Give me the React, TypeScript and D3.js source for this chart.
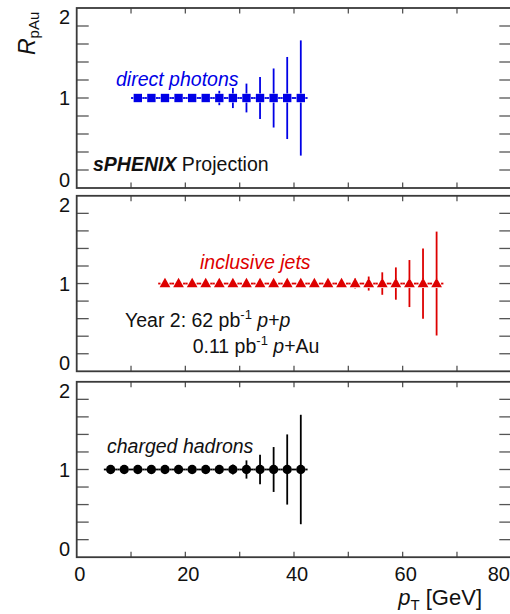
import React from 'react'
import * as d3 from 'd3'

// pT bin centres [GeV], R_pAu values and their projected uncertainties
const photonPt = [11.25, 13.75, 16.25, 18.75, 21.25, 23.75, 26.25, 28.75, 31.25, 33.75, 36.25, 38.75, 41.25]
const photonR = [1, 1, 1, 1, 1, 1, 1, 1, 1, 1, 1, 1, 1]
const photonErr = [0.015, 0.015, 0.02, 0.02, 0.03, 0.055, 0.1, 0.14, 0.2, 0.29, 0.41, 0.57, 0.8]

const jetPt = [16.25, 18.75, 21.25, 23.75, 26.25, 28.75, 31.25, 33.75, 36.25, 38.75, 41.25, 43.75, 46.25, 48.75, 51.25, 53.75, 56.25, 58.75, 61.25, 63.75, 66.25]
const jetR = [1, 1, 1, 1, 1, 1, 1, 1, 1, 1, 1, 1, 1, 1, 1, 1, 1, 1, 1, 1, 1]
const jetErr = [0.01, 0.01, 0.01, 0.015, 0.015, 0.02, 0.02, 0.025, 0.025, 0.03, 0.035, 0.04, 0.045, 0.05, 0.07, 0.1, 0.16, 0.23, 0.335, 0.5, 0.74]

const hadronPt = [6.25, 8.75, 11.25, 13.75, 16.25, 18.75, 21.25, 23.75, 26.25, 28.75, 31.25, 33.75, 36.25, 38.75, 41.25]
const hadronR = [1, 1, 1, 1, 1, 1, 1, 1, 1, 1, 1, 1, 1, 1, 1]
const hadronErr = [0.01, 0.01, 0.01, 0.015, 0.015, 0.02, 0.02, 0.025, 0.03, 0.07, 0.13, 0.21, 0.32, 0.5, 0.78]

const binHalfWidth = 1.25
const xDomain = [0, 80]
const yDomain = [-0.25, 2.25]
const xTicks = [10, 20, 30, 40, 50, 60, 70]
const xTickLabels = [0, 20, 40, 60, 80]
const yTicks = [0, 0.25, 0.5, 0.75, 1, 1.25, 1.5, 1.75, 2]
const yTickLabels = [0, 1, 2]

const W = 510
const H = 614
const FONT = 'Liberation Sans, Arial, Helvetica, sans-serif'
const FRAME = '#3a3a3a'

const x = d3.scaleLinear().domain(xDomain).range([76.7, 511.3])

const Markers = ({ pt, r, err, y, color, shape }) => {
  const gap = 4.5
  const sym = shape === 'triangle' ? d3.symbolTriangle : shape === 'square' ? d3.symbolSquare : d3.symbolCircle
  const size = shape === 'triangle' ? 50 : shape === 'square' ? 70 : 68
  const path = d3.symbol(sym, size)()
  return (
    <g>
      {pt.map((p, i) => {
        const cx = x(p)
        const cy = y(r[i])
        const x0 = x(p - binHalfWidth)
        const x1 = x(p + binHalfWidth)
        const yTop = y(r[i] + err[i])
        const yBot = y(r[i] - err[i])
        return (
          <g key={i} stroke={color} strokeWidth={1.8}>
            <line x1={x0} x2={cx - gap} y1={cy} y2={cy} />
            <line x1={cx + gap} x2={x1} y1={cy} y2={cy} />
            {cy - yTop > gap && <line x1={cx} x2={cx} y1={yTop} y2={cy - gap} />}
            {yBot - cy > gap && <line x1={cx} x2={cx} y1={cy + gap} y2={yBot} />}
          </g>
        )
      })}
      {pt.map((p, i) => (
        <path
          key={'m' + i}
          d={path}
          fill={color}
          transform={`translate(${x(p)},${y(r[i]) + (shape === 'triangle' ? 0.5 : 0)})`}
        />
      ))}
    </g>
  )
}

const Frame = ({ y, top, bottom, showXLabels }) => {
  const left = x(xDomain[0])
  const right = x(xDomain[1])
  return (
    <g>
      {yTicks.map(t => (
        <g key={'y' + t} stroke="#555" strokeWidth={1.3}>
          <line x1={left} x2={left + 12} y1={y(t)} y2={y(t)} />
          <line x1={right - 12} x2={right} y1={y(t)} y2={y(t)} />
        </g>
      ))}
      {xTicks.map(t => (
        <g key={'x' + t} stroke="#555" strokeWidth={1.3}>
          <line x1={x(t)} x2={x(t)} y1={top} y2={top + 5.5} />
          <line x1={x(t)} x2={x(t)} y1={bottom - 5.5} y2={bottom} />
        </g>
      ))}
      <rect x={left} y={top} width={right - left} height={bottom - top} fill="none" stroke={FRAME} strokeWidth={1.8} />
      {yTickLabels.map(t => (
        <text
          key={'yl' + t}
          x={70}
          y={y(t) + (t === 2 ? -9 : t === 0 ? 9.5 : 0)}
          dy="0.36em"
          textAnchor="end"
          fontSize={20}
          fill="#111"
        >
          {t}
        </text>
      ))}
      {showXLabels &&
        xTickLabels.map((t, i) => (
          <text
            key={'xl' + t}
            x={i === xTickLabels.length - 1 ? W : x(t) + 3}
            y={581}
            textAnchor={i === xTickLabels.length - 1 ? 'end' : 'middle'}
            fontSize={20}
            fill="#111"
          >
            {t}
          </text>
        ))}
    </g>
  )
}

const App = () => {
  const y1 = d3.scaleLinear().domain(yDomain).range([188, 8])
  const y2 = d3.scaleLinear().domain(yDomain).range([371.3, 195.8])
  const y3 = d3.scaleLinear().domain(yDomain).range([557.2, 381.8])

  return (
    <svg
      width={W}
      height={H}
      style={{ position: 'absolute', left: 0, top: 0, background: '#fff' }}
      fontFamily={FONT}
    >
      <rect width={W} height={H} fill="#fff" />

      {/* top: direct photons */}
      <Frame y={y1} top={8} bottom={188} showXLabels={false} />
      <Markers pt={photonPt} r={photonR} err={photonErr} y={y1} color="#0000e6" shape="square" />
      <text x={116} y={85.7} fontSize={19.5} fontStyle="italic" fill="#0000e6">direct photons</text>
      <text x={93} y={170.7} fontSize={19.5} fill="#111">
        <tspan fontWeight="bold" fontStyle="italic">sPHENIX</tspan>
        <tspan> Projection</tspan>
      </text>

      {/* middle: inclusive jets */}
      <Frame y={y2} top={195.8} bottom={371.3} showXLabels={false} />
      <Markers pt={jetPt} r={jetR} err={jetErr} y={y2} color="#dd0000" shape="triangle" />
      <text x={200} y={269} fontSize={19.5} fontStyle="italic" fill="#dd0000">inclusive jets</text>
      <text x={125} y={326.5} fontSize={19.5} fill="#111">
        <tspan>Year 2: 62 pb</tspan>
        <tspan fontSize={13} dy={-8}>-1</tspan>
        <tspan dy={8}> </tspan>
        <tspan fontStyle="italic">p</tspan>
        <tspan>+</tspan>
        <tspan fontStyle="italic">p</tspan>
      </text>
      <text x={192.7} y={353} fontSize={19.5} fill="#111">
        <tspan>0.11 pb</tspan>
        <tspan fontSize={13} dy={-8}>-1</tspan>
        <tspan dy={8}> </tspan>
        <tspan fontStyle="italic">p</tspan>
        <tspan>+Au</tspan>
      </text>

      {/* bottom: charged hadrons */}
      <Frame y={y3} top={381.8} bottom={557.2} showXLabels={true} />
      <Markers pt={hadronPt} r={hadronR} err={hadronErr} y={y3} color="#000" shape="circle" />
      <text x={107} y={452.5} fontSize={19.5} fontStyle="italic" fill="#111">charged hadrons</text>

      {/* axis titles */}
      <text transform="translate(35,55) rotate(-90)" fontSize={23} fill="#111">
        <tspan fontStyle="italic">R</tspan>
        <tspan fontSize={15} dy={4}>pAu</tspan>
      </text>
      <text x={482} y={605} textAnchor="end" fontSize={22} fill="#111">
        <tspan fontStyle="italic">p</tspan>
        <tspan fontSize={15} dy={5}>T</tspan>
        <tspan dy={-5}> [GeV]</tspan>
      </text>
    </svg>
  )
}

export default App
